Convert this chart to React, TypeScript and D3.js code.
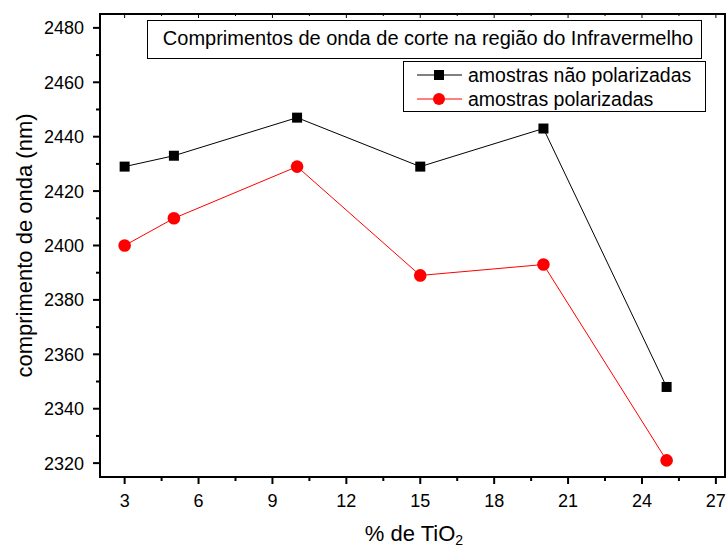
import React from "react";
import * as d3 from "d3";

const tio2 = [3, 5, 10, 15, 20, 25];
const naoPolarizadas = [2429, 2433, 2447, 2429, 2443, 2348];
const polarizadas = [2400, 2410, 2429, 2389, 2393, 2321];
const xTicks = [3, 6, 9, 12, 15, 18, 21, 24, 27];
const yTicks = [2320, 2340, 2360, 2380, 2400, 2420, 2440, 2460, 2480];
const titleText = "Comprimentos de onda de corte na região do Infravermelho";
const legendLabels = ["amostras não polarizadas", "amostras polarizadas"];

const W = 728, H = 550;
const L = 100, R = 725, T = 14, B = 477;
const FONT = "'Liberation Sans', Arial, sans-serif";

export default function App() {
  const x = d3.scaleLinear().domain([2, 27.37]).range([L, R]);
  const y = d3.scaleLinear().domain([2314.9, 2485.1]).range([B, T]);
  const xMinor = d3.range(1.5, 28, 1.5).filter(v => x(v) > L && x(v) < R && !xTicks.includes(v));
  const yMinor = d3.range(2310, 2490, 10).filter(v => y(v) > T && y(v) < B && !yTicks.includes(v));
  const line = d3.line<number>().x((_, i) => x(tio2[i])).y(d => y(d));

  return (
    <svg width={W} height={H} style={{ position: "absolute", left: 0, top: 0, background: "#fff" }} fontFamily={FONT}>
      <rect x={0} y={0} width={W} height={H} fill="#fff" />
      {/* series */}
      <path d={line(naoPolarizadas) || ""} fill="none" stroke="#000" strokeWidth={1} />
      <path d={line(polarizadas) || ""} fill="none" stroke="#ff0000" strokeWidth={1} />
      {naoPolarizadas.map((v, i) => (
        <rect key={"s" + i} x={x(tio2[i]) - 5} y={y(v) - 5} width={10} height={10} fill="#000" />
      ))}
      {polarizadas.map((v, i) => (
        <circle key={"c" + i} cx={x(tio2[i])} cy={y(v)} r={6.3} fill="#ff0000" />
      ))}
      {/* frame */}
      <rect x={L} y={T} width={R - L} height={B - T} fill="none" stroke="#000" strokeWidth={2} />
      {/* bottom axis */}
      {xTicks.map(v => (
        <g key={"xt" + v}>
          <line x1={x(v)} x2={x(v)} y1={B} y2={B + 7} stroke="#000" strokeWidth={2} />
          <line x1={x(v)} x2={x(v)} y1={T} y2={T + 4} stroke="#000" strokeWidth={1} />
          <text x={x(v)} y={B + 30} textAnchor="middle" fontSize={18}>{v}</text>
        </g>
      ))}
      {xMinor.map(v => (
        <g key={"xm" + v}>
          <line x1={x(v)} x2={x(v)} y1={B} y2={B + 4} stroke="#000" strokeWidth={2} />
          <line x1={x(v)} x2={x(v)} y1={T} y2={T + 2} stroke="#000" strokeWidth={1} />
        </g>
      ))}
      {/* left axis */}
      {yTicks.map(v => (
        <g key={"yt" + v}>
          <line x1={L - 7} x2={L} y1={y(v)} y2={y(v)} stroke="#000" strokeWidth={2} />
          <text x={L - 16} y={y(v) + 6.5} textAnchor="end" fontSize={18}>{v}</text>
        </g>
      ))}
      {yMinor.map(v => (
        <line key={"ym" + v} x1={L - 4} x2={L} y1={y(v)} y2={y(v)} stroke="#000" strokeWidth={2} />
      ))}
      {/* axis titles */}
      <text transform={`translate(32,${(T + B) / 2}) rotate(-90)`} textAnchor="middle" fontSize={22}>
        comprimento de onda (nm)
      </text>
      <text x={414} y={541} textAnchor="middle" fontSize={22}>
        % de TiO<tspan dy={4} fontSize={14}>2</tspan>
      </text>
      {/* title box */}
      <rect x={147.5} y={20.5} width={554} height={38} fill="#fff" stroke="#000" strokeWidth={1} />
      <text x={428} y={45} textAnchor="middle" fontSize={20}>{titleText}</text>
      {/* legend */}
      <rect x={403.5} y={61.5} width={302} height={50} fill="#fff" stroke="#000" strokeWidth={1} />
      <line x1={417} x2={462} y1={75} y2={75} stroke="#000" strokeWidth={1} />
      <rect x={434} y={70} width={10} height={10} fill="#000" />
      <text x={468} y={82} fontSize={19.5}>{legendLabels[0]}</text>
      <line x1={417} x2={462} y1={99} y2={99} stroke="#ff0000" strokeWidth={1} />
      <circle cx={439} cy={99} r={6} fill="#ff0000" />
      <text x={468} y={106} fontSize={19.5}>{legendLabels[1]}</text>
    </svg>
  );
}
